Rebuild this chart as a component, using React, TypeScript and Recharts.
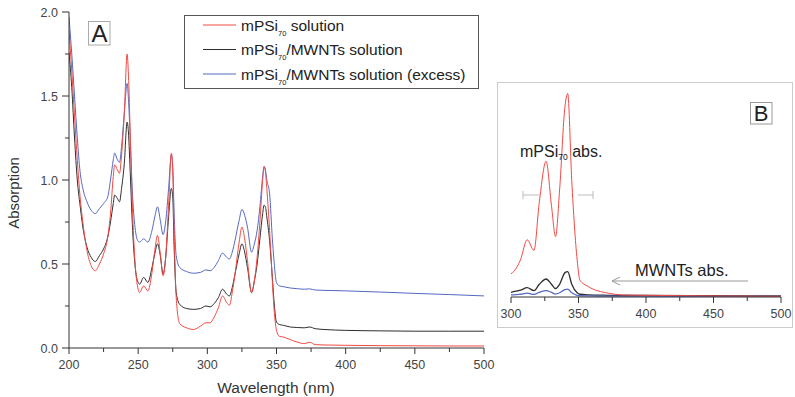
import React from "react";
import { LineChart, Line, XAxis, YAxis } from "recharts";

// Panel A data
const wavelengths = [200,202,204,206,208,210,213,216,219,222,225,228,230,232,233,235,236.5,238,240,242,243,244,246,248,250,251,254,257,260,262,264,266,268,270,272,274,275,276,277.5,280,285,290,295,299,302,305,308,311,314,316,318,320,323,325,327,329,332,334,336,338,340,341,342,343,345,347,348,350,352,355,360,365,370,374,378,385,400,425,450,475,500];
const redA = [1.89,1.65,1.38,1.12,0.9,0.75,0.58,0.49,0.46,0.5,0.56,0.66,0.8,1.02,1.09,1.06,1.04,1.15,1.4,1.75,1.62,1.35,0.8,0.48,0.35,0.33,0.37,0.34,0.45,0.58,0.67,0.56,0.43,0.55,0.85,1.16,1.05,0.7,0.3,0.145,0.12,0.11,0.13,0.15,0.15,0.185,0.24,0.31,0.27,0.255,0.33,0.44,0.63,0.72,0.65,0.52,0.33,0.4,0.54,0.75,1.0,1.08,1.05,0.95,0.7,0.4,0.26,0.105,0.07,0.065,0.05,0.035,0.026,0.034,0.02,0.018,0.016,0.014,0.013,0.012,0.012];
const blackA = [1.76,1.55,1.25,1.0,0.85,0.72,0.6,0.54,0.515,0.55,0.59,0.66,0.75,0.86,0.91,0.89,0.87,0.95,1.1,1.345,1.28,1.1,0.7,0.47,0.39,0.38,0.42,0.39,0.48,0.56,0.62,0.55,0.44,0.55,0.78,0.95,0.9,0.6,0.33,0.26,0.235,0.23,0.235,0.25,0.245,0.265,0.3,0.35,0.32,0.31,0.36,0.44,0.56,0.62,0.57,0.48,0.33,0.4,0.5,0.65,0.8,0.85,0.84,0.78,0.64,0.42,0.3,0.155,0.14,0.135,0.125,0.122,0.12,0.125,0.115,0.11,0.105,0.102,0.1,0.1,0.1];
const blueA = [1.97,1.75,1.5,1.25,1.05,0.95,0.87,0.82,0.8,0.83,0.86,0.9,1.0,1.12,1.16,1.12,1.105,1.2,1.4,1.575,1.48,1.3,0.9,0.7,0.635,0.63,0.65,0.63,0.7,0.78,0.84,0.76,0.675,0.76,0.95,1.15,1.08,0.8,0.55,0.48,0.455,0.445,0.45,0.465,0.46,0.48,0.52,0.565,0.54,0.53,0.57,0.64,0.76,0.825,0.79,0.72,0.57,0.62,0.7,0.84,1.02,1.08,1.06,1.0,0.92,0.65,0.54,0.39,0.37,0.365,0.357,0.353,0.35,0.352,0.345,0.343,0.34,0.333,0.325,0.318,0.31];

// Panel B data
const wavelengthsB = [300,302,307,312,317,321,326,330,333,336,340,342,345,349,351,357,372,382,400,450,500];
const redB = [0.11,0.12,0.175,0.27,0.22,0.45,0.64,0.43,0.285,0.505,0.9,0.96,0.55,0.175,0.08,0.05,0.018,0.01,0.008,0.005,0.003];
const blackB = [0.022,0.025,0.032,0.044,0.03,0.06,0.085,0.06,0.04,0.06,0.115,0.12,0.06,0.02,0.013,0.01,0.008,0.007,0.007,0.006,0.005];
const blueB = [0.01,0.01,0.013,0.018,0.012,0.022,0.03,0.022,0.014,0.02,0.035,0.037,0.02,0.008,0.006,0.005,0.004,0.004,0.004,0.003,0.003];

const xTicksA = [200,225,250,275,300,325,350,375,400,425,450,475,500];
const yTicksA = [0,0.25,0.5,0.75,1,1.25,1.5,1.75,2];
const xTicksB = [300,325,350,375,400,425,450,475,500];

const legendLabels = [
  { pre: "mPSi", sub: "70", post: " solution" },
  { pre: "mPSi", sub: "70", post: "/MWNTs solution" },
  { pre: "mPSi", sub: "70", post: "/MWNTs solution (excess)" },
];

const RED = "#f24a44";
const BLACK = "#2e2e2e";
const BLUE = "#5468c4";
const FONT = "'Liberation Sans', Arial, sans-serif";

const dataA = wavelengths.map((w, i) => ({ w, r: redA[i], k: blackA[i], b: blueA[i] }));
const dataB = wavelengthsB.map((w, i) => ({ w, r: redB[i], k: blackB[i], b: blueB[i] }));

const XTick = (props: any) => {
  const { x, y, payload } = props;
  const major = payload.value % 50 === 0;
  return (
    <g>
      <line x1={x} y1={y} x2={x} y2={y + (major ? 6 : 4)} stroke="#333" />
      {major && (
        <text x={x} y={y + 21} textAnchor="middle" fontSize={12.5} fill="#444" fontFamily={FONT}>
          {payload.value}
        </text>
      )}
    </g>
  );
};

const YTick = (props: any) => {
  const { x, y, payload } = props;
  const major = Math.abs((payload.value * 2) - Math.round(payload.value * 2)) < 1e-6;
  return (
    <g>
      <line x1={x} y1={y} x2={x - (major ? 7 : 4)} y2={y} stroke="#333" />
      {major && (
        <text x={x - 11} y={y + 4.5} textAnchor="end" fontSize={12.5} fill="#444" fontFamily={FONT}>
          {payload.value.toFixed(1)}
        </text>
      )}
    </g>
  );
};

export default function App() {
  return (
    <div style={{ position: "absolute", left: 0, top: 0, width: 795, height: 397, background: "#fff", fontFamily: FONT }}>
      <div style={{ position: "absolute", left: 0, top: 0 }}>
        <LineChart width={500} height={397} data={dataA} margin={{ top: 12, right: 16, bottom: 19, left: 29 }}>
          <XAxis dataKey="w" type="number" domain={[200, 500]} ticks={xTicksA} tick={<XTick />} tickLine={false} tickSize={0} tickMargin={0} stroke="#333" height={30} interval={0} allowDataOverflow />
          <YAxis type="number" domain={[0, 2]} ticks={yTicksA} tick={<YTick />} tickLine={false} tickSize={0} tickMargin={0} stroke="#333" width={40} interval={0} allowDataOverflow />
          <Line dataKey="k" type="monotone" stroke={BLACK} strokeWidth={1} dot={false} isAnimationActive={false} />
          <Line dataKey="b" type="monotone" stroke={BLUE} strokeWidth={1} dot={false} isAnimationActive={false} />
          <Line dataKey="r" type="monotone" stroke={RED} strokeWidth={1} dot={false} isAnimationActive={false} />
        </LineChart>
      </div>
      <div style={{ position: "absolute", left: 497, top: 82 }}>
        <LineChart width={295} height={246} data={dataB} margin={{ top: 3, right: 11, bottom: 11, left: 14 }}>
          <XAxis dataKey="w" type="number" domain={[300, 500]} ticks={xTicksB} tick={<XTick />} tickLine={false} tickSize={0} tickMargin={0} stroke="#333" height={20} interval={0} />
          <YAxis type="number" domain={[0, 1]} hide />
          <Line dataKey="k" type="monotone" stroke={BLACK} strokeWidth={1.3} dot={false} isAnimationActive={false} />
          <Line dataKey="b" type="monotone" stroke={BLUE} strokeWidth={1.3} dot={false} isAnimationActive={false} />
          <Line dataKey="r" type="monotone" stroke={RED} strokeWidth={1} dot={false} isAnimationActive={false} />
        </LineChart>
      </div>
      <svg width={795} height={397} style={{ position: "absolute", left: 0, top: 0, pointerEvents: "none" }} fontFamily={FONT}>
        {/* Axis titles */}
        <text x={276} y={393} textAnchor="middle" fontSize={15.5} fill="#333">Wavelength (nm)</text>
        <text transform="translate(19,193) rotate(-90)" textAnchor="middle" fontSize={15} fill="#333">Absorption</text>
        {/* A label */}
        <rect x={88.5} y={21.5} width={21.5} height={23.5} fill="#fff" stroke="#aaa" />
        <text x={99.5} y={42} textAnchor="middle" fontSize={24} fill="#222">A</text>
        {/* Legend */}
        <rect x={184.5} y={15.5} width={294} height={73} fill="#fff" stroke="#555" />
        {legendLabels.map((l, i) => {
          const cy = 25 + i * 24.5;
          const col = [RED, BLACK, BLUE][i];
          return (
            <g key={i}>
              <line x1={203} y1={cy} x2={236} y2={cy} stroke={col} strokeWidth={1} />
              <text x={241} y={cy + 5.5} fontSize={15.5} fill="#222">
                {l.pre}
                <tspan fontSize={7.5} dy={5}>{l.sub}</tspan>
                <tspan dy={-5}>{l.post}</tspan>
              </text>
            </g>
          );
        })}
        {/* Panel B frame */}
        <rect x={497.5} y={82.5} width={295} height={245} fill="none" stroke="#ccc" />
        <rect x={750.5} y={102.5} width={21.5} height={21.5} fill="#fff" stroke="#999" />
        <text x={761} y={121} textAnchor="middle" fontSize={22} fill="#222">B</text>
        <text x={520} y={157} fontSize={16} fill="#222">
          mPSi<tspan fontSize={8.5} dy={3}>70</tspan><tspan dy={-3}> abs.</tspan>
        </text>
        <g stroke="#bbb" strokeWidth={1}>
          <line x1={523} y1={195} x2={539} y2={195} />
          <line x1={523} y1={191} x2={523} y2={199} />
          <line x1={578} y1={195} x2={593} y2={195} />
          <line x1={593} y1={191} x2={593} y2={199} />
        </g>
        <text x={635} y={276} fontSize={16.5} fill="#222">MWNTs abs.</text>
        <g stroke="#999" strokeWidth={1} fill="none">
          <line x1={612} y1={281} x2={748} y2={281} />
          <polyline points="620,277 612,281 620,285" />
        </g>
      </svg>
    </div>
  );
}
